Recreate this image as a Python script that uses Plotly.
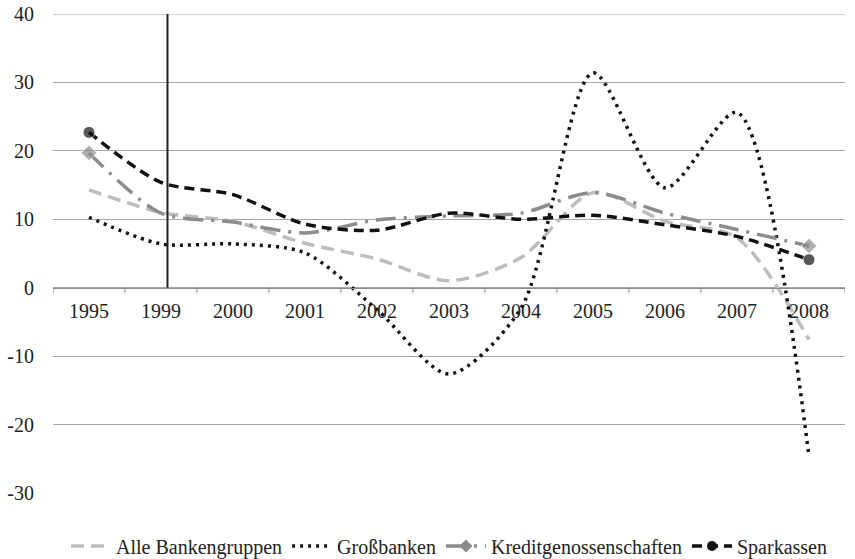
import plotly.graph_objects as go

years = ["1995", "1999", "2000", "2001", "2002", "2003", "2004", "2005", "2006", "2007", "2008"]
alle = [14.3, 11.0, 9.7, 6.5, 4.2, 1.0, 4.4, 13.9, 9.7, 7.3, -7.6]
gross = [10.3, 6.4, 6.4, 5.1, -3.2, -12.6, -3.0, 31.4, 14.6, 25.6, -24.7]
kredit = [19.7, 10.9, 9.6, 8.0, 9.9, 10.5, 10.9, 13.9, 10.9, 8.5, 6.1]
spark = [22.7, 15.4, 13.6, 9.3, 8.4, 10.9, 10.0, 10.6, 9.2, 7.5, 4.1]
y_ticks = [-30, -20, -10, 0, 10, 20, 30, 40]
y_tick_text = ["-30", "-20", "-10", "0", "10", "20", "30", "40"]
marker_line_x = 1.09

FONT = "Liberation Serif, Times New Roman, serif"
n = len(years)
xs = list(range(n))
end_sizes = [12] + [0] * (n - 2) + [12]

styles = {
    "Alle Bankengruppen": dict(color="#bdbdbd", width=3.5, dash="13px,7px"),
    "Großbanken": dict(color="#111111", width=3.5, dash="3px,5px"),
    "Kreditgenossenschaften": dict(color="#8c8c8c", width=3.5, dash="20px,8px,3px,8px"),
    "Sparkassen": dict(color="#111111", width=3.5, dash="10px,6px"),
}
markers = {
    "Kreditgenossenschaften": dict(symbol="diamond", color="#8c8c8c"),
    "Sparkassen": dict(symbol="circle", color="#111111"),
}
series = [("Alle Bankengruppen", alle), ("Großbanken", gross),
          ("Kreditgenossenschaften", kredit), ("Sparkassen", spark)]

fig = go.Figure()
for name, vals in series:
    st = styles[name]
    if name in markers:
        fig.add_trace(go.Scatter(
            x=xs, y=vals, name=name, mode="lines+markers", showlegend=False,
            line=dict(st, shape="spline", smoothing=0.8),
            marker=dict(markers[name], size=end_sizes),
        ))
    else:
        fig.add_trace(go.Scatter(
            x=xs, y=vals, name=name, mode="lines", showlegend=False,
            line=dict(st, shape="spline", smoothing=0.8),
        ))
# legend entries
for name, vals in series:
    st = styles[name]
    if name in markers:
        fig.add_trace(go.Scatter(x=[None], y=[None], name=name, mode="lines+markers",
                                 line=st, marker=dict(markers[name], size=10)))
    else:
        fig.add_trace(go.Scatter(x=[None], y=[None], name=name, mode="lines", line=st))

# top gridline at 40 (plotly drops the gridline on the plot edge)
fig.add_shape(type="line", x0=0, x1=1, y0=40, y1=40, xref="paper", yref="y",
              layer="below", line=dict(color="#a6a6a6", width=1))
fig.add_shape(type="line", x0=marker_line_x, x1=marker_line_x, y0=0, y1=40,
              xref="x", yref="y", line=dict(color="#222222", width=2))

fig.update_layout(
    width=855, height=559,
    margin=dict(l=53, r=10, t=14, b=66, autoexpand=False),
    paper_bgcolor="white", plot_bgcolor="white",
    font=dict(family=FONT, size=20, color="#222222"),
    showlegend=True,
    legend=dict(orientation="h", x=0.5, xanchor="center", y=-0.07, yanchor="top",
                font=dict(family=FONT, size=20), itemwidth=40, tracegroupgap=0),
)
fig.update_xaxes(
    range=[-0.5, n - 0.5],
    tickvals=xs, ticktext=years,
    showgrid=False, zeroline=False,
    showline=True, linecolor="#8c8c8c", linewidth=1,
    anchor="free", position=3 / 7,
    ticks="", ticklabelstandoff=5, tickfont=dict(family=FONT, size=20),
)
# boundary tick marks along the zero axis
for i in range(n + 1):
    fig.add_shape(type="line", x0=i - 0.5, x1=i - 0.5, y0=0, y1=-0.8,
                  xref="x", yref="y", line=dict(color="#8c8c8c", width=1))
fig.update_yaxes(
    range=[-30, 40], tickvals=y_ticks, ticktext=y_tick_text,
    showgrid=True, gridcolor="#a6a6a6", gridwidth=1,
    zeroline=False, showline=False,
    ticks="", ticklabelstandoff=18, ticklabeloverflow="allow",
    tickfont=dict(family=FONT, size=20),
)

fig.write_html("out.html", config={"displayModeBar": False},
               post_script="document.body.style.margin='0';")
